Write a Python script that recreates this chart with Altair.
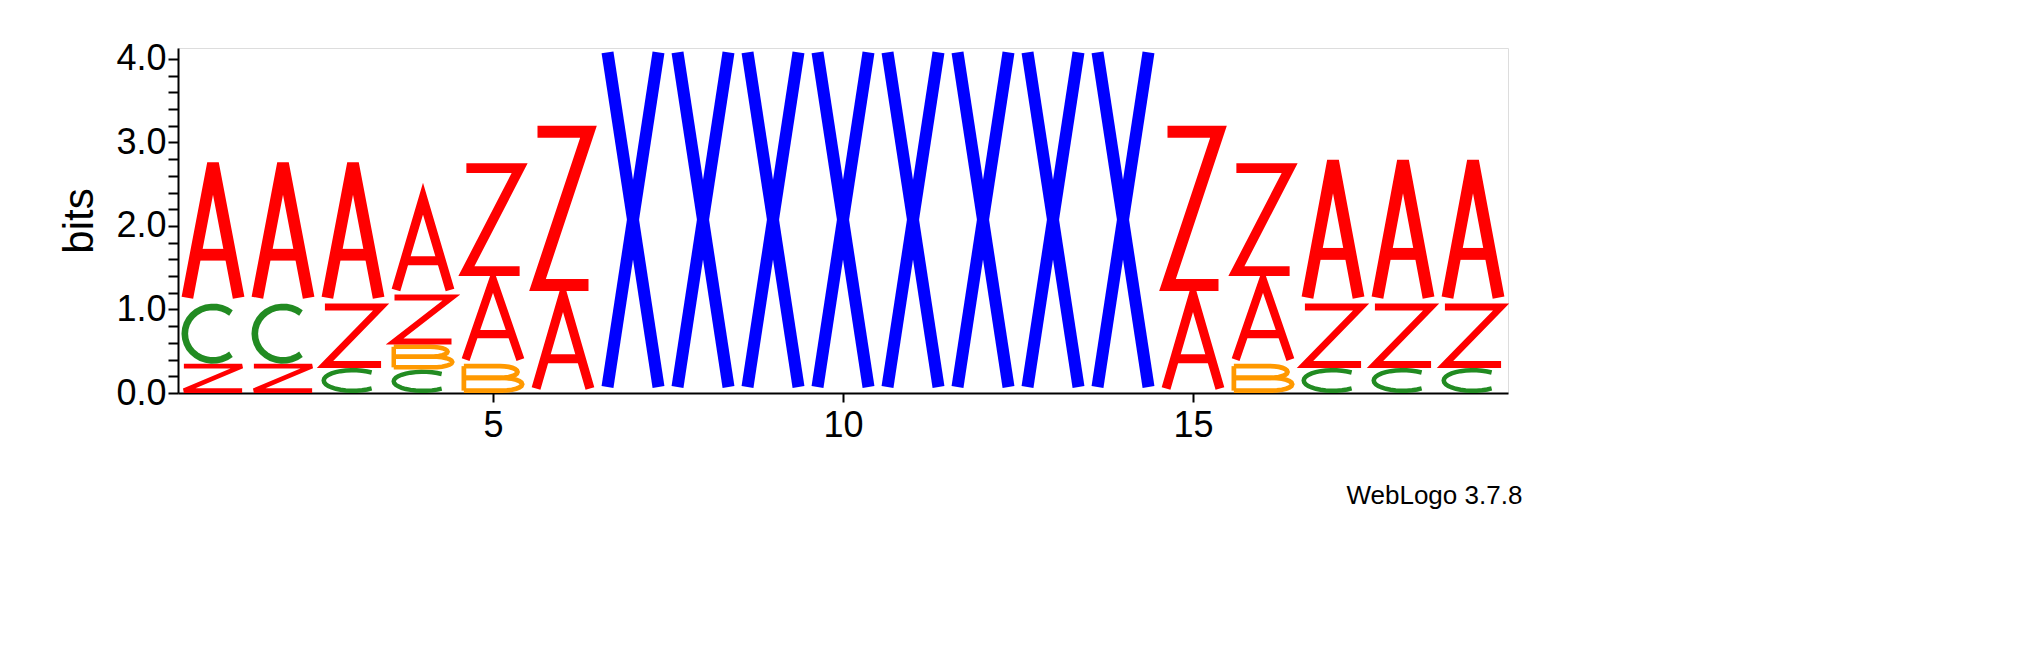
import altair as alt
import numpy as np
import pandas as pd

# stacks per position, bottom to top: (letter, height in bits)
positions = list(range(1, 20))
stacks = [
    [("Z", 0.35), ("C", 0.72), ("A", 1.75)],
    [("Z", 0.35), ("C", 0.72), ("A", 1.75)],
    [("C", 0.30), ("Z", 0.77), ("A", 1.75)],
    [("C", 0.28), ("B", 0.30), ("Z", 0.60), ("A", 1.20)],
    [("B", 0.35), ("A", 1.05), ("Z", 1.35)],
    [("A", 1.22), ("Z", 1.98)],
    [("X", 4.15)], [("X", 4.15)], [("X", 4.15)], [("X", 4.15)],
    [("X", 4.15)], [("X", 4.15)], [("X", 4.15)], [("X", 4.15)],
    [("A", 1.22), ("Z", 1.98)],
    [("B", 0.35), ("A", 1.05), ("Z", 1.35)],
    [("C", 0.30), ("Z", 0.77), ("A", 1.78)],
    [("C", 0.30), ("Z", 0.77), ("A", 1.78)],
    [("C", 0.30), ("Z", 0.77), ("A", 1.78)],
]
colors = {"A": "#ff0000", "Z": "#ff0000", "C": "#228b22", "B": "#ff9900", "X": "#0000ff"}

# glyph outlines as strokes in a unit box
t = np.linspace(np.pi * 0.28, np.pi * 1.72, 25)
top_b = np.linspace(np.pi / 2, -np.pi / 2, 13)
glyphs = {
    "A": [[(0, 0), (0.5, 1), (1, 0)], [(0.2, 0.32), (0.8, 0.32)]],
    "Z": [[(0, 1), (1, 1), (0, 0), (1, 0)]],
    "X": [[(0, 0), (1, 1)], [(0, 1), (1, 0)]],
    "C": [list(zip(0.5 + 0.5 * np.cos(t), 0.5 + 0.5 * np.sin(t)))],
    "B": [[(0, 0), (0, 1)],
          [(0, 1)] + list(zip(0.62 + 0.3 * np.cos(top_b), 0.76 + 0.24 * np.sin(top_b))) + [(0, 0.52)],
          [(0, 0.52)] + list(zip(0.65 + 0.35 * np.cos(top_b), 0.26 + 0.26 * np.sin(top_b))) + [(0, 0)]],
}

px_per_bit = 83.75
px_per_pos = 70.0
rows = []
for pos, stack in zip(positions, stacks):
    base = 0.0
    for k, (letter, h) in enumerate(stack):
        sw = min(12.0, 3.0 + 5.0 * h)
        iy = sw / 2 / px_per_bit
        ix = sw / 2 / px_per_pos
        x0, x1 = pos - 0.45 + ix, pos + 0.45 - ix
        y0, y1 = base + iy, base + h - iy
        for s, stroke in enumerate(glyphs[letter]):
            for o, (gx, gy) in enumerate(stroke):
                rows.append({
                    "key": f"{pos}-{k}-{s}", "o": o,
                    "x": x0 + gx * (x1 - x0), "y": y0 + gy * (y1 - y0),
                    "color": colors[letter], "sw": sw,
                })
        base += h
df = pd.DataFrame(rows)

yticks = [round(v * 0.2, 1) for v in range(21)]

chart = alt.Chart(df).mark_line(strokeCap="butt", strokeJoin="miter", clip=False).encode(
    x=alt.X("x:Q", title=None, scale=alt.Scale(domain=[0.5, 19.5], nice=False, zero=False),
            axis=alt.Axis(values=[5, 10, 15], labelFontSize=36, tickSize=9, tickWidth=2,
                          domainWidth=2, domainColor="black", tickColor="black", grid=False,
                          labelColor="black", labelPadding=6)),
    y=alt.Y("y:Q", title="bits", scale=alt.Scale(domain=[0, 4.13], nice=False),
            axis=alt.Axis(values=yticks, labelExpr="abs(datum.value - round(datum.value)) < 0.01 ? format(datum.value, '.1f') : ''",
                          labelFontSize=36, titleFontSize=42, titleFontWeight="normal", tickSize=10,
                          tickWidth=2, domainWidth=2, domainColor="black", tickColor="black",
                          grid=False, labelColor="black", titleColor="black", titlePadding=14)),
    detail="key:N",
    order="o:Q",
    color=alt.Color("color:N", scale=None),
    strokeWidth=alt.StrokeWidth("sw:Q", scale=None),
).properties(
    width=1330, height=345,
    padding={"left": 50, "top": 20, "right": 10, "bottom": 10},
    title=alt.TitleParams("WebLogo 3.7.8", orient="bottom", anchor="end", fontSize=26,
                          fontWeight="normal", color="black", offset=40),
).configure_view(stroke=None).configure(font="Liberation Sans")

chart.save("out.html", embed_options={"renderer": "svg", "actions": False})
